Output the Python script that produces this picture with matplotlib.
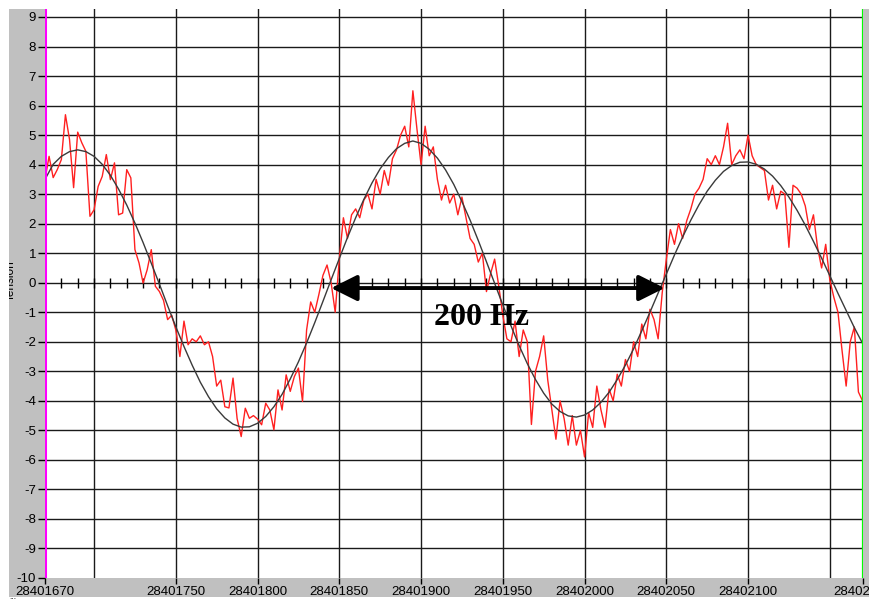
import numpy as np
import matplotlib
matplotlib.use("Agg")
import matplotlib.pyplot as plt
from matplotlib.patches import Rectangle

# --- data -------------------------------------------------------------
t_start = 28401670
t_stop = 28402170

signal_step = 2.5
signal = [
    3.5, 4.28, 3.56, 3.83, 4.17, 5.69, 4.85, 3.22, 5.1, 4.74,
    4.45, 2.25, 2.47, 3.26, 3.6, 4.34, 3.49, 4.06, 2.3, 2.36,
    3.83, 3.55, 1.12, 0.67, -0.01, 0.44, 1.12, -0.12, -0.3, -0.6,
    -1.25, -1.1, -1.6, -2.5, -1.3, -2.1, -1.9, -2.0, -1.8, -2.1,
    -2.0, -2.5, -3.5, -3.3, -4.2, -4.24, -3.23, -4.6, -5.21, -4.25,
    -4.59, -4.5, -4.62, -4.81, -4.08, -4.31, -4.98, -3.63, -4.31, -3.12,
    -3.68, -3.18, -2.89, -4.02, -1.6, -0.65, -1.0, -0.4, 0.25, 0.6,
    0.0, -1.0, 0.8, 2.2, 1.5, 2.3, 2.5, 2.2, 2.8, 3.0,
    2.5, 3.5, 3.0, 3.8, 3.3, 4.2, 4.5, 5.0, 5.3, 4.6,
    6.5, 5.2, 4.0, 5.3, 4.3, 4.6, 3.5, 2.8, 3.3, 2.7,
    3.0, 2.3, 2.9, 2.2, 1.5, 1.3, 0.7, 1.0, -0.3, 0.3,
    0.8, -0.1, -1.1, -1.9, -2.0, -1.3, -2.5, -1.6, -2.0, -4.8,
    -3.0, -2.5, -1.8, -3.3, -4.3, -5.3, -4.0, -4.6, -5.5, -4.5,
    -5.5, -5.0, -5.9, -4.4, -4.9, -3.5, -4.3, -4.9, -3.6, -4.0,
    -3.1, -3.5, -2.6, -3.0, -2.0, -2.5, -1.4, -1.9, -0.9, -1.25,
    -1.9, -0.34, 0.78, 1.8, 1.3, 2.0, 1.5, 2.1, 2.5, 3.0,
    3.2, 3.5, 4.2, 4.0, 4.3, 4.0, 4.6, 5.4, 4.0, 4.3,
    4.5, 4.2, 5.0, 4.3, 4.0, 3.9, 3.8, 2.8, 3.3, 2.5,
    3.1, 3.0, 1.2, 3.3, 3.2, 3.0, 2.6, 1.8, 2.3, 1.2,
    0.5, 1.3, 0.1, -0.5, -1.0, -2.3, -3.5, -2.0, -1.5, -3.7,
    -4.0,
]

fit_step = 5
fit = [
    3.5, 4.01, 4.28, 4.44, 4.5, 4.44, 4.28, 4.01, 3.64, 3.17,
    2.63, 2.02, 1.36, 0.66, -0.05, -0.78, -1.49, -2.16, -2.79, -3.37,
    -3.86, -4.27, -4.58, -4.79, -4.89, -4.88, -4.76, -4.53, -4.20, -3.78,
    -3.26, -2.68, -2.04, -1.35, -0.63, 0.10, 0.82, 1.53, 2.20, 2.82,
    3.38, 3.86, 4.24, 4.54, 4.72, 4.80, 4.72, 4.52, 4.22, 3.82,
    3.33, 2.75, 2.12, 1.43, 0.71, -0.02, -0.75, -1.46, -2.13, -2.74,
    -3.28, -3.74, -4.11, -4.36, -4.51, -4.55, -4.48, -4.31, -4.05, -3.71,
    -3.28, -2.79, -2.24, -1.63, -1.00, -0.35, 0.29, 0.94, 1.55, 2.12,
    2.64, 3.10, 3.47, 3.77, 3.97, 4.08, 4.09, 4.01, 3.85, 3.61,
    3.29, 2.90, 2.45, 1.95, 1.40, 0.83, 0.24, -0.36, -0.94, -1.52,
    -2.05,
]

x_tick_values = [28401670, 28401750, 28401800, 28401850, 28401900,
                 28401950, 28402000, 28402050, 28402100, 28402170]
x_grid_values = [28401700, 28401750, 28401800, 28401850, 28401900,
                 28401950, 28402000, 28402050, 28402100, 28402150]
y_tick_values = list(range(-10, 10))
y_label = "Tension"

period_label = "200 Hz"
period_from = 28401845
period_to = 28402049
period_level = -0.18

# --- figure -------------------------------------------------------------
W, H = 869, 601
fig = plt.figure(figsize=(W / 100, H / 100), dpi=100, facecolor="white")

panel = Rectangle((9 / W, 4 / H), 860 / W, 588 / H, transform=fig.transFigure,
                  facecolor="#c0c0c0", edgecolor="none", zorder=-10)
fig.patches.append(panel)

ax = fig.add_axes([45 / W, 23 / H, 817.5 / W, 569 / H])
ax.set_zorder(1)
ax.set_facecolor("white")
ax.set_xlim(t_start, t_stop)
ax.set_ylim(-10, 9.27)
for s in ax.spines.values():
    s.set_visible(False)

tick_font = dict(family=["Liberation Sans Narrow", "Liberation Sans", "DejaVu Sans"], size=9.5)

ax.set_yticks(y_tick_values)
ax.set_yticklabels([str(v) for v in y_tick_values], **tick_font)
ax.set_xticks(x_tick_values)
ax.set_xticklabels([str(v) for v in x_tick_values], **tick_font)
ax.tick_params(axis="y", length=5, width=1, pad=1.5, colors="black")
ax.tick_params(axis="x", length=4, width=1, pad=1.5, colors="black")

# grid
grid_kw = dict(color="#1a1a1a", lw=1.0, zorder=1)
for gx in x_grid_values:
    ax.axvline(gx, **grid_kw)
for gy in y_tick_values[1:]:
    ax.axhline(gy, **grid_kw)

# small ticks along the zero line, every 10 samples
zero_ticks = [t_start + 10 * k for k in range(1, (t_stop - t_start) // 10)]
ax.vlines(zero_ticks, -0.17, 0.17, color="black", lw=1.0, zorder=2)

# boundary cursors
ax.axvline(t_start, color="#ff00ff", lw=2.2, zorder=5)
ax.axvline(t_stop, color="#00ff00", lw=1.6, zorder=5)

# measured signal and fitted curve
t_sig = t_start + signal_step * np.arange(len(signal))
t_fit = t_start + fit_step * np.arange(len(fit))
ax.plot(t_sig, signal, color="#ff2020", lw=1.0, zorder=3)
ax.plot(t_fit, fit, color="#3a3a3a", lw=1.0, zorder=4)

# period annotation
ax.annotate("", xy=(period_to, period_level), xytext=(period_from, period_level),
            arrowprops=dict(arrowstyle="<|-|>", color="black", lw=2.8,
                            mutation_scale=40, shrinkA=0, shrinkB=0),
            zorder=6)
ax.text((period_from + period_to) / 2 - 10, -1.17, period_label,
        family=["Liberation Serif", "DejaVu Serif"], weight="bold", size=23,
        ha="center", va="center", zorder=6)

# axis name, partly hidden by the panel border
lbl = fig.text(10.5 / W, 1 - 281 / H, y_label, rotation=90, ha="center", va="center",
               family=["Liberation Sans", "DejaVu Sans"], size=8.5)
lbl.set_clip_path(panel)

fig.text(9 / W, 0.0, "...", ha="left", va="bottom", size=6,
         family=["Liberation Sans", "DejaVu Sans"])

fig.savefig("out.png", dpi=100)
